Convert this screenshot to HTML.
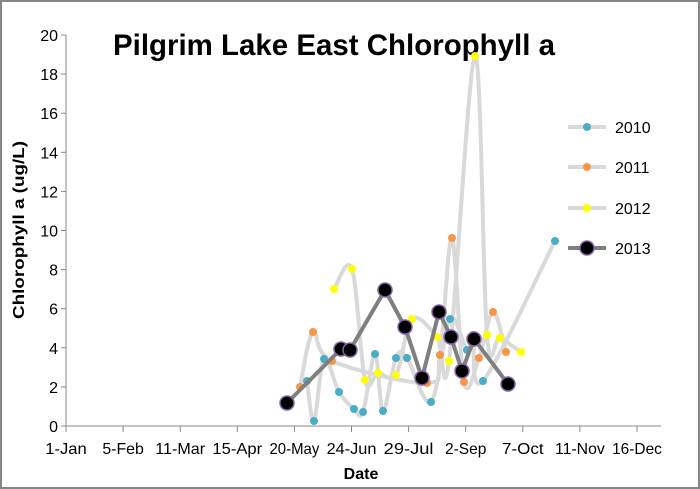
<!DOCTYPE html>
<html><head><style>
html,body{margin:0;padding:0;background:#fff}
svg{display:block}
text{font-family:"Liberation Sans",sans-serif}
</style></head><body>
<svg id="s" width="700" height="489" viewBox="0 0 700 489">
<rect x="1" y="1" width="698" height="487" fill="#fff" stroke="#868686" stroke-width="2"/>
<text x="334" y="55" font-size="30" font-weight="bold" text-anchor="middle" fill="#000" textLength="442" lengthAdjust="spacingAndGlyphs">Pilgrim Lake East Chlorophyll a</text>
<g id="axes"></g>
<g id="series"></g>
</svg>
<script>
const NS="http://www.w3.org/2000/svg";
const s=document.getElementById('s');
const ax=document.getElementById('axes');
function el(t,a,p,txt){const e=document.createElementNS(NS,t);for(const k in a)e.setAttribute(k,a[k]);if(txt!==undefined)e.textContent=txt;(p||s).appendChild(e);return e;}
const y0=426,py=19.55,X0=66;
el('line',{x1:X0,y1:35,x2:X0,y2:426,stroke:'#888','stroke-width':1},ax);
el('line',{x1:X0,y1:426,x2:661,y2:426,stroke:'#888','stroke-width':1},ax);
for(let v=0;v<=20;v+=2){const y=y0-v*py;el('line',{x1:X0-5,y1:y,x2:X0,y2:y,stroke:'#888'},ax);el('text',{x:X0-8,y:y+6,'font-size':16,'text-anchor':'end'},ax,String(v));}
const labs=['1-Jan','5-Feb','11-Mar','15-Apr','20-May','24-Jun','29-Jul','2-Sep','7-Oct','11-Nov','16-Dec'];
labs.forEach((l,i)=>{const x=X0+i*57.1;el('line',{x1:x,y1:426,x2:x,y2:432,stroke:'#888'},ax);el('text',{x:x,y:454,'font-size':16,'text-anchor':'middle','textLength':l.length*8.3,'lengthAdjust':'spacingAndGlyphs'},ax,l);});
el('text',{x:361,y:479,'font-size':16,'font-weight':'bold','text-anchor':'middle'},ax,'Date');
el('text',{x:0,y:0,'font-size':16,'font-weight':'bold','text-anchor':'middle',transform:'translate(24,230) rotate(-90)',textLength:178,lengthAdjust:'spacingAndGlyphs'},ax,'Chlorophyll a (ug/L)');
function smooth(p){let d='M'+p[0][0]+','+p[0][1];for(let i=0;i<p.length-1;i++){const a=p[i-1]||p[i],b=p[i],c=p[i+1],e=p[i+2]||c;const t=6;d+=' C'+(b[0]+(c[0]-a[0])/t)+','+(b[1]+(c[1]-a[1])/t)+' '+(c[0]-(e[0]-b[0])/t)+','+(c[1]-(e[1]-b[1])/t)+' '+c[0]+','+c[1];}return d;}
const g=document.getElementById('series');
const blue=[[307,381],[314,421],[324,359],[339,392],[354,409],[363,412],[375,354],[383,411],[396,358],[407,358],[431,402],[450,319],[467,350],[473,335],[483,381],[555,241]];
const yel=[[334,289],[352,269],[365,380],[378,373],[396,375],[412,319],[437,337],[449,361],[475,56],[487,335],[500,338],[521,352]];
const ora=[[300,387],[313,332],[332,361],[427,383],[440,355],[452,238],[464,382],[479,358],[493,312],[506,352]];
const blk=[[287,403],[341,349],[350,350],[385,290],[405,327],[422,378],[439,312],[451,337],[462,371],[474,339],[508,384]];
[blue,ora,yel].forEach(p=>el('path',{d:smooth(p),fill:'none',stroke:'#d9d9d9','stroke-width':4,'stroke-linejoin':'round'},g));
[[blue,'#4bacc6'],[ora,'#f79646'],[yel,'#ffff00']].forEach(([p,c])=>p.forEach(q=>el('circle',{cx:q[0],cy:q[1],r:4,fill:c},g)));
el('polyline',{points:blk.map(q=>q.join(',')).join(' '),fill:'none',stroke:'#7f7f7f','stroke-width':4,'stroke-linejoin':'round'},g);
blk.forEach(q=>el('circle',{cx:q[0],cy:q[1],r:7,fill:'#000',stroke:'#8064a2','stroke-width':1.5},g));
[['2010','#4bacc6',127],['2011','#f79646',167],['2012','#ffff00',208]].forEach(([t,c,y])=>{el('line',{x1:568,y1:y,x2:606,y2:y,stroke:'#d9d9d9','stroke-width':4},g);el('circle',{cx:587,cy:y,r:4,fill:c},g);el('text',{x:615,y:y+6,'font-size':16},g,t);});
el('line',{x1:568,y1:248,x2:606,y2:248,stroke:'#7f7f7f','stroke-width':4},g);
el('circle',{cx:587,cy:248,r:7,fill:'#000',stroke:'#8064a2','stroke-width':1.5},g);
el('text',{x:615,y:254,'font-size':16},g,'2013');
</script>
</body></html>
